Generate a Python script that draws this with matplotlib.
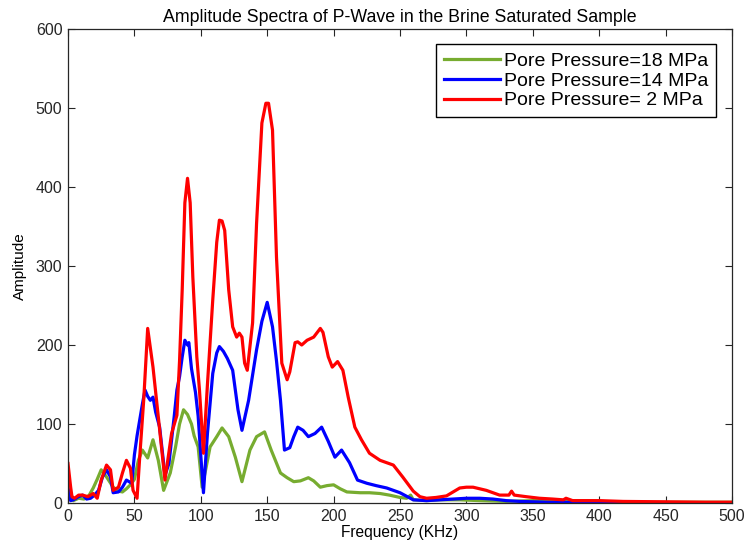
import matplotlib
matplotlib.use("Agg")
import matplotlib.pyplot as plt

plt.rcParams['font.family'] = ['Liberation Sans', 'DejaVu Sans']

title = "Amplitude Spectra of P-Wave in the Brine Saturated Sample"
xlabel = "Frequency (KHz)"
ylabel = "Amplitude"
labels = ["Pore Pressure=18 MPa", "Pore Pressure=14 MPa", "Pore Pressure= 2 MPa"]
colors = ["#77AC30", "#0000FF", "#FF0000"]

x_green = [0, 2, 4, 8, 12, 16, 19, 22, 25, 29, 34, 38, 41, 44, 47, 50, 53, 56, 60, 64,
           68, 72, 77, 81, 84, 87, 90, 93, 95, 98, 101, 104, 107, 112, 116, 121, 126, 131,
           137, 142, 148, 153, 160, 165, 170, 175, 181, 185, 190, 195, 200, 205, 210, 220,
           227, 235, 242, 250, 255, 258, 260, 270, 280, 295, 310, 330, 350, 380, 400, 420,
           450, 500]
y_green = [8, 12, 3, 6, 5, 10, 19, 30, 42, 33, 20, 15, 14, 18, 23, 30, 54, 67, 57, 80,
           54, 16, 38, 71, 100, 118, 112, 100, 85, 71, 20, 45, 71, 84, 95, 84, 58, 27,
           67, 84, 90, 67, 38, 32, 27, 28, 32, 28, 20, 22, 23, 18, 14, 13,
           13, 12, 10, 7, 6, 10, 4, 3, 4, 4, 3, 2, 3, 3, 2, 1,
           1, 1]

x_blue = [0, 2, 4, 8, 11, 14, 17, 20, 23, 26, 29, 32, 34, 38, 41, 44, 48, 50, 52, 54,
          56, 58, 60, 62, 64, 66, 69, 73, 76, 80, 82, 84, 86, 88, 90, 91, 93, 96, 98, 100,
          102, 105, 109, 112, 114, 117, 120, 124, 128, 131, 136, 142, 146, 150, 154, 157,
          160, 163, 167, 170, 173, 177, 181, 186, 191, 196, 201, 206, 212, 218, 225, 232,
          240, 250, 260, 270, 280, 290, 300, 310, 320, 330, 340, 360, 400, 450, 500]
y_blue = [20, 3, 4, 8, 10, 5, 6, 10, 16, 33, 42, 33, 13, 14, 20, 29, 25, 61, 85, 105,
          125, 143, 135, 130, 134, 115, 96, 35, 50, 110, 143, 160, 185, 206, 200, 203, 170, 140, 110, 60,
          13, 88, 164, 190, 198, 192, 183, 168, 118, 92, 130, 194, 230, 254, 223, 180,
          130, 67, 70, 84, 96, 92, 84, 88, 96, 78, 58, 67, 51, 29, 25, 22,
          19, 13, 4, 3, 4, 5, 6, 6, 5, 3, 2, 1, 0.5, 0.3, 0.3]

x_red = [0, 2, 3, 5, 8, 11, 15, 19, 22, 25, 29, 32, 34, 38, 41, 44, 47, 49, 52, 54,
         57, 60, 64, 68, 73, 78, 82, 84, 86, 88, 90, 92, 94, 97, 99, 102, 105, 109, 112, 114,
         116, 118, 121, 124, 127, 129, 131, 133, 135, 139, 142, 146, 149, 151, 154, 157,
         161, 165, 167, 171, 173, 176, 180, 185, 190, 192, 196, 199, 203, 207, 211, 216,
         221, 227, 235, 245, 252, 260, 265, 270, 277, 285, 295, 300, 305, 315, 325, 332,
         334, 336, 345, 355, 365, 373, 375, 380, 400, 418, 450, 480, 500]
y_red = [50, 20, 8, 6, 10, 10, 8, 12, 6, 29, 48, 42, 16, 20, 38, 54, 44, 16, 6, 58,
         130, 221, 172, 109, 29, 88, 111, 180, 270, 380, 411, 380, 286, 185, 143, 63, 150, 257, 330, 358,
         357, 345, 270, 223, 210, 215, 210, 177, 168, 228, 354, 481, 506, 506, 472, 311,
         177, 156, 166, 203, 204, 200, 206, 210, 221, 216, 185, 172, 179, 168, 134, 96,
         80, 63, 54, 48, 33, 15, 8, 6, 7, 9, 19, 20, 20, 16, 10, 10,
         15, 10, 8, 6, 5, 4, 6, 3, 3, 2, 1.5, 1, 1]

fig = plt.figure(figsize=(7.48, 5.5), dpi=100)
ax = fig.add_axes([68/748, 47/550, 664/748, 474/550])

for xs, ys, c, lab in [(x_green, y_green, colors[0], labels[0]),
                       (x_blue, y_blue, colors[1], labels[1]),
                       (x_red, y_red, colors[2], labels[2])]:
    ax.plot(xs, ys, color=c, lw=2.3, label=lab)

ax.set_xlim(0, 500)
ax.set_ylim(0, 600)
ax.set_xticks(range(0, 501, 50))
ax.set_yticks(range(0, 601, 100))
ax.tick_params(direction='in', top=True, right=True, length=5, width=0.8,
               labelsize=11.5, colors='#262626', pad=4)
for s in ax.spines.values():
    s.set_linewidth(0.9)
    s.set_color('#262626')

ax.set_title(title, fontsize=12.8, pad=5)
ax.set_xlabel(xlabel, fontsize=11.2, labelpad=1)
ax.set_ylabel(ylabel, fontsize=11, labelpad=6)

leg = ax.legend(loc='upper right', bbox_to_anchor=(0.976, 0.968), borderaxespad=0,
                fontsize=14, labelspacing=0.12, handlelength=2.9, handletextpad=0.2,
                borderpad=0.4, fancybox=False, framealpha=1, edgecolor='black')
leg.get_frame().set_linewidth(1.0)

fig.savefig("out.png", dpi=100)
